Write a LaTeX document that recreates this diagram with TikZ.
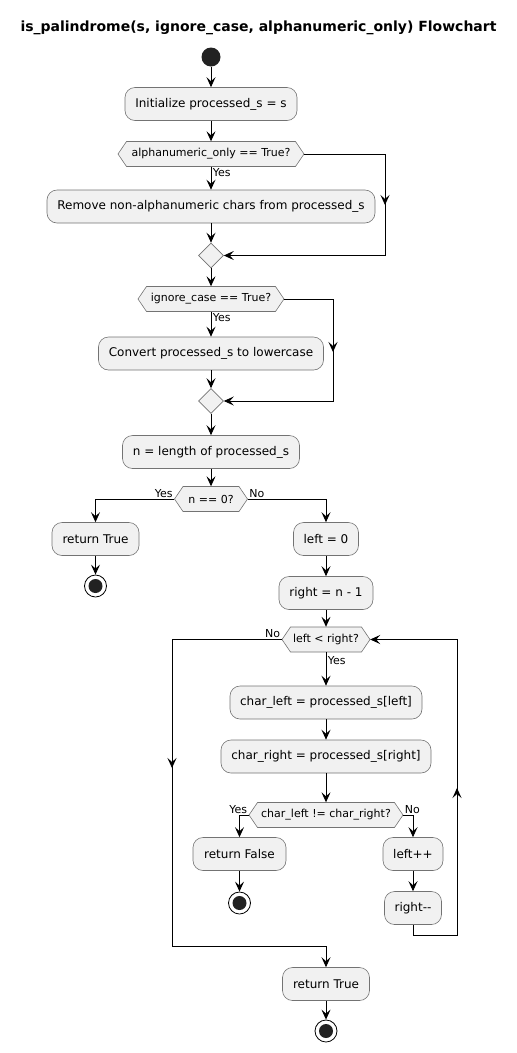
\documentclass[tikz,border=0pt]{standalone}
\usepackage{fontspec}
\setmainfont{DejaVu Sans}
\usetikzlibrary{arrows.meta,calc,shapes.geometric}
\definecolor{boxfill}{HTML}{F1F1F1}
\definecolor{dotfill}{HTML}{222222}
\tikzset{
  act/.style={draw=black!55, line width=0.6pt, fill=boxfill, rounded corners=10pt,
    minimum height=33pt, inner xsep=8pt, font=\fontsize{12}{14}\selectfont},
  dec/.style={inner sep=0pt, minimum height=25pt, font=\fontsize{11}{13}\selectfont},
  hexline/.style={draw=black!55, line width=0.6pt, fill=boxfill},
  merge/.style={diamond, draw=black!55, line width=0.6pt, fill=boxfill, inner sep=0pt,
    minimum width=25pt, minimum height=25pt},
  startdot/.style={circle, fill=dotfill, minimum size=19pt, inner sep=0pt},
  enddot/.style={circle, draw=black, line width=0.8pt, fill=white, minimum size=22pt, inner sep=0pt,
    path picture={\fill[dotfill] (path picture bounding box.center) circle (7pt);}},
  flow/.style={line width=0.9pt, -{Stealth[length=10pt,width=9pt,inset=4pt]}},
  lbl/.style={font=\fontsize{11}{13}\selectfont, inner sep=1.5pt},
}
\newcommand\hexnode[5]{% name, x, y, halfwidth, text
  \draw[hexline] (#2-#4,#3) -- (#2-#4+8.5,#3-12.5) -- (#2+#4-8.5,#3-12.5) -- (#2+#4,#3)
     -- (#2+#4-8.5,#3+12.5) -- (#2-#4+8.5,#3+12.5) -- cycle;
  \node[dec, minimum width=2*#4] (#1) at (#2,#3) {#5};}
\begin{document}
\begin{tikzpicture}[x=1pt,y=-1pt]
\useasboundingbox (0,0) rectangle (517,1053);
\node[font=\bfseries\fontsize{14}{16}\selectfont] (title) at (258.5,28) {is\_palindrome(s, ignore\_case, alphanumeric\_only) Flowchart};

\node[startdot] (start) at (211,57) {};
\node[act, minimum width=172pt] (init) at (211,104) {Initialize processed\_s = s};
\hexnode{d1}{211}{154}{93}{alphanumeric\_only == True?}
\node[act, minimum width=328pt] (rm) at (211,206.5) {Remove non-alphanumeric chars from processed\_s};
\node[merge] (m1) at (211,255.5) {};
\hexnode{d2}{211}{299}{73}{ignore\_case == True?}
\node[act, minimum width=225pt] (cv) at (211,353.5) {Convert processed\_s to lowercase};
\node[merge] (m2) at (211,401) {};
\node[act, minimum width=177pt] (nlen) at (211,452) {n = length of processed\_s};
\hexnode{d3}{211}{499}{36.5}{n == 0?}
\node[act, minimum width=87pt] (rt1) at (95.5,539) {return True};
\node[enddot] (e1) at (95.5,586) {};
\node[act, minimum width=65pt] (l0) at (326,539) {left = 0};
\node[act, minimum width=94pt] (r1) at (326,593) {right = n - 1};
\hexnode{d4}{326}{639.5}{44}{left < right?}
\node[act, minimum width=192pt] (cl) at (326,702.5) {char\_left = processed\_s[left]};
\node[act, minimum width=210pt] (cr) at (326,756.5) {char\_right = processed\_s[right]};
\hexnode{d5}{326}{815}{77}{char\_left != char\_right?}
\node[act, minimum width=93pt] (rf) at (239.5,854) {return False};
\node[enddot] (e2) at (239.5,903) {};
\node[act, minimum width=60pt] (lpp) at (413,854) {left++};
\node[act, minimum width=57pt] (rmm) at (413,908) {right-{}-};
\node[act, minimum width=87pt] (rt2) at (326,984) {return True};
\node[enddot] (e3) at (326,1031) {};

% main flow
\draw[flow] (start) -- (init);
\draw[flow] (init) -- (d1);
\draw[flow] (d1.south) -- node[lbl, pos=0.25, anchor=west] (y1) {Yes} (rm.north);
\coordinate (c1) at (385,154);
\coordinate (c2) at (385,255.5);
\draw[flow] (d1.east) -- (c1) -- (c2) -- (m1.east);
\draw[flow] (c1) -- (385,205);
\draw[flow] (rm) -- (m1);
\draw[flow] (m1) -- (d2);
\draw[flow] (d2.south) -- node[lbl, pos=0.25, anchor=west] (y2) {Yes} (cv.north);
\coordinate (c3) at (333,299);
\coordinate (c4) at (333,401);
\draw[flow] (d2.east) -- (c3) -- (c4) -- (m2.east);
\draw[flow] (c3) -- (333,352);
\draw[flow] (cv) -- (m2);
\draw[flow] (m2) -- (nlen);
\draw[flow] (nlen) -- (d3);
\draw[flow] (d3.west) -| (rt1.north);
\node[lbl, anchor=south east] (y3) at (d3.west) {Yes};
\draw[flow] (d3.east) -| (l0.north);
\node[lbl, anchor=south west] (n3) at (d3.east) {No};
\draw[flow] (rt1) -- (e1);
\draw[flow] (l0) -- (r1);
\draw[flow] (r1) -- (d4);
\draw[flow] (d4.south) -- node[lbl, pos=0.25, anchor=west] (y4) {Yes} (cl.north);
\draw[flow] (cl) -- (cr);
\draw[flow] (cr) -- (d5);
\draw[flow] (d5.west) -| (rf.north);
\node[lbl, anchor=south east] (y5) at (d5.west) {Yes};
\draw[flow] (d5.east) -| (lpp.north);
\node[lbl, anchor=south west] (n5) at (d5.east) {No};
\draw[flow] (rf) -- (e2);
\draw[flow] (lpp) -- (rmm);
% loop back
\coordinate (c5) at (413,935);
\coordinate (c6) at (457,935);
\coordinate (c7) at (457,639.5);
\draw[flow] (rmm.south) -- (c5) -- (c6) -- (c7) -- (d4.east);
\draw[flow] (c6) -- (457,788);
% exit loop
\coordinate (c8) at (172,639.5);
\coordinate (c9) at (172,946);
\coordinate (c10) at (326,946);
\draw[flow] (d4.west) -- (c8) -- (c9) -- (c10) -- (rt2.north);
\draw[flow] (c8) -- (172,768);
\node[lbl, anchor=south east] (n4) at (d4.west) {No};
\draw[flow] (rt2) -- (e3);
\end{tikzpicture}
\end{document}
